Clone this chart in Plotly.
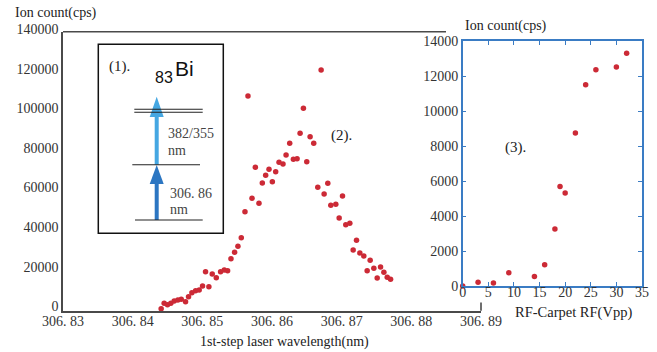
import plotly.graph_objects as go

# ---------------- data ----------------
wavelength_nm = [
    306.84409, 306.84452, 306.84500, 306.84548, 306.84596, 306.84649, 306.84697,
    306.84759, 306.84802, 306.84850, 306.84903, 306.84955, 306.85003, 306.85046,
    306.85094, 306.85142, 306.85200, 306.85262, 306.85315, 306.85363, 306.85411,
    306.85463, 306.85511, 306.85559, 306.85612, 306.85655, 306.85713, 306.85761,
    306.85813, 306.85861, 306.85909, 306.85957, 306.86005, 306.86053, 306.86101,
    306.86158, 306.86202, 306.86254, 306.86307, 306.86360, 306.86403, 306.86451,
    306.86499, 306.86547, 306.86599, 306.86657, 306.86705, 306.86748, 306.86801,
    306.86844, 306.86916, 306.86964, 306.87012, 306.87059, 306.87117, 306.87165,
    306.87213, 306.87261, 306.87318, 306.87366, 306.87409, 306.87462, 306.87510,
    306.87558, 306.87606, 306.87654, 306.87702,
]
ion_count_wl = [
    420, 3110, 2440, 3110, 4290, 4790, 5130,
    3950, 6470, 8490, 9500, 9840, 11860, 19090,
    11520, 17910, 16060, 19090, 19930, 19590, 25650,
    28840, 31870, 36240, 49360, 107710, 56080, 71720,
    53560, 63820, 67690, 70710, 64490, 69540, 74250,
    73400, 77950, 83830, 75760, 76090, 88880, 101490,
    74580, 87190, 83830, 61630, 120830, 58270, 63650,
    52550, 53060, 46160, 57260, 42800, 43470, 30020,
    34890, 28500, 26990, 19590, 24800, 20770, 15890,
    21440, 18750, 16230, 15220,
]
wl_tickvals = [306.83, 306.84, 306.85, 306.86, 306.87, 306.88, 306.89]
wl_ticktext = ["306. 83", "306. 84", "306. 85", "306. 86", "306. 87", "306. 88", "306. 89"]
count_tickvals = [0, 20000, 40000, 60000, 80000, 100000, 120000, 140000]

rf_vpp = [0, 3, 6, 9, 14, 16, 18, 19, 20, 22, 24, 26, 30, 32]
ion_count_rf = [0, 210, 170, 760, 550, 1220, 3260, 5680, 5310, 8740, 11500, 12360, 12510, 13300]
rf_tickvals = [0, 5, 10, 15, 20, 25, 30, 35]
rf_count_tickvals = [0, 2000, 4000, 6000, 8000, 10000, 12000, 14000]

# ---------------- figure ----------------
W, H = 657, 352


def fx(px):
    return px / W


def fy(py):
    return 1 - py / H


RED = "#cc2a36"
BLUE_AX = "#3a7cc4"
GREY_AX = "#4a4a4a"
SERIF = "Liberation Serif, Times New Roman, serif"
SANS = "Liberation Sans, Arial, sans-serif"

fig = go.Figure()
fig.add_trace(go.Scatter(
    x=wavelength_nm, y=ion_count_wl, mode="markers",
    marker=dict(color=RED, size=5.5), xaxis="x", yaxis="y", cliponaxis=False,
))
fig.add_trace(go.Scatter(
    x=rf_vpp, y=ion_count_rf, mode="markers",
    marker=dict(color=RED, size=5.5), xaxis="x2", yaxis="y2", cliponaxis=False,
))

tickfont = dict(family=SERIF, size=14, color="#333333")

fig.update_layout(
    width=W, height=H, autosize=False,
    margin=dict(l=0, r=0, t=0, b=0, pad=0),
    paper_bgcolor="white", plot_bgcolor="rgba(0,0,0,0)",
    showlegend=False,
    xaxis=dict(
        domain=[fx(63), fx(481)], range=[306.83, 306.89], anchor="y",
        tickvals=wl_tickvals, ticktext=wl_ticktext, tickfont=tickfont,
        showline=True, linecolor=GREY_AX, linewidth=1.6, ticks="",
        ticklabelstandoff=-3,
        showgrid=False, zeroline=False, automargin=False,
    ),
    yaxis=dict(
        domain=[fy(310.7), fy(32)], range=[-605, 140000], anchor="x",
        tickvals=count_tickvals, tickformat="d", tickfont=tickfont,
        showline=True, linecolor=GREY_AX, linewidth=1.6, ticks="",
        ticklabelshift=-3,
        showgrid=False, zeroline=False, automargin=False,
    ),
    xaxis2=dict(
        domain=[fx(462.7), fx(642)], range=[0, 35], anchor="y2",
        tickvals=rf_tickvals, tickfont=tickfont,
        showline=True, linecolor=BLUE_AX, linewidth=1.5, mirror="ticks",
        ticks="inside", ticklen=4, tickcolor=BLUE_AX, tickwidth=1.2,
        ticklabelstandoff=-8,
        showgrid=False, zeroline=False, automargin=False,
    ),
    yaxis2=dict(
        domain=[fy(286), fy(41)], range=[0, 14000], anchor="x2",
        tickvals=rf_count_tickvals, tickformat="d", tickfont=tickfont,
        showline=True, linecolor=BLUE_AX, linewidth=1.5, mirror="ticks",
        ticks="inside", ticklen=4, tickcolor=BLUE_AX, tickwidth=1.2,
        showgrid=False, zeroline=False, automargin=False,
    ),
)

shapes = []
# left chart: top border (partially hidden behind right panel) and right-end tick
shapes.append(dict(type="line", xref="paper", yref="paper",
                   x0=fx(63), x1=fx(446), y0=fy(31.8), y1=fy(31.8),
                   line=dict(color=GREY_AX, width=1.6)))
shapes.append(dict(type="line", xref="paper", yref="paper",
                   x0=fx(481), x1=fx(481), y0=fy(302.6), y1=fy(310.7),
                   line=dict(color=GREY_AX, width=1.6)))
# inset box
shapes.append(dict(type="rect", xref="paper", yref="paper",
                   x0=fx(98.3), x1=fx(223.3), y0=fy(233.3), y1=fy(44.3),
                   line=dict(color="#111111", width=1.5), fillcolor="white", layer="below"))

# arrows (energy-level diagram)
AX = 156.7
LIGHT = "#45a7e2"
DARK = "#2c76c2"
shapes.append(dict(type="line", xref="paper", yref="paper",
                   x0=fx(AX), x1=fx(AX), y0=fy(164.7), y1=fy(114),
                   line=dict(color=LIGHT, width=4)))
shapes.append(dict(type="path", xref="paper", yref="paper",
                   path=f"M {fx(AX)},{fy(96.7)} L {fx(AX - 7)},{fy(117)} L {fx(AX + 7)},{fy(117)} Z",
                   fillcolor=LIGHT, line=dict(width=0)))
shapes.append(dict(type="line", xref="paper", yref="paper",
                   x0=fx(AX), x1=fx(AX), y0=fy(220), y1=fy(181),
                   line=dict(color=DARK, width=4)))
shapes.append(dict(type="path", xref="paper", yref="paper",
                   path=f"M {fx(AX)},{fy(165)} L {fx(AX - 7)},{fy(184)} L {fx(AX + 7)},{fy(184)} Z",
                   fillcolor=DARK, line=dict(width=0)))
# energy levels
for (xa, xb, yy) in [(134.3, 202.7, 109.3), (134.3, 202.7, 112.3),
                     (132.3, 200.0, 164.7), (135.0, 202.7, 220.0)]:
    shapes.append(dict(type="line", xref="paper", yref="paper",
                       x0=fx(xa), x1=fx(xb), y0=fy(yy), y1=fy(yy),
                       line=dict(color="#222222", width=1.1)))
fig.update_layout(shapes=shapes)

ann = []


def text(s, x, y, size=14, color="#222222", family=SERIF, xanchor="left"):
    ann.append(dict(text=s, x=fx(x), y=fy(y), xref="paper", yref="paper",
                    xanchor=xanchor, yanchor="middle", showarrow=False,
                    font=dict(family=family, size=size, color=color)))


text("Ion count(cps)", 13.3, 12.7)
text("1st-step laser wavelength(nm)", 284, 341.7, xanchor="center")
text("Ion count(cps)", 463.3, 26)
text("RF-Carpet RF(Vpp)", 573, 312.5, xanchor="center", size=14.5)
text("(1).", 106.5, 66.7, size=15)
text("83", 153, 78, size=16, color="#111111", family=SANS)
text("Bi", 172.5, 68.3, size=21, color="#111111", family=SANS)
text("382/355", 166, 134, size=14, color="#444444")
text("nm", 166, 150.3, size=14, color="#444444")
text("306. 86", 168.3, 193, size=14, color="#444444")
text("nm", 168.3, 209.3, size=14, color="#444444")
text("(2).", 329.3, 135, size=15)
text("(3).", 502.7, 147.3, size=15)
fig.update_layout(annotations=ann)

fig.write_html("out.html", config={"displayModeBar": False},
               post_script="document.body.style.margin='0';")
